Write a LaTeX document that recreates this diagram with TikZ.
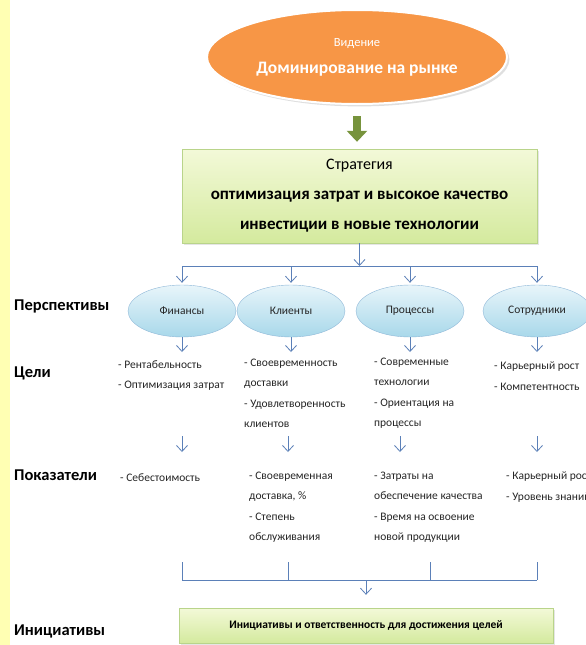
\documentclass[tikz,border=0pt]{standalone}
\usepackage{fontspec}
\setmainfont{Carlito}
\usetikzlibrary{shapes.geometric,arrows.meta,shadows}
\definecolor{visionorange}{HTML}{F79646}
\definecolor{boxtop}{HTML}{F3F9D8}
\definecolor{boxbottom}{HTML}{D4EA9E}
\definecolor{boxborder}{HTML}{B9D48A}
\definecolor{persptop}{HTML}{E8F5FA}
\definecolor{perspbottom}{HTML}{A8D8EA}
\definecolor{perspborder}{HTML}{8FB8D8}
\definecolor{linkblue}{HTML}{5B80B8}
\definecolor{arrowgreen}{HTML}{77933C}
\definecolor{stripyellow}{HTML}{FFFFB3}
\definecolor{textgrey}{HTML}{262626}
\begin{document}
\begin{tikzpicture}[x=1pt,y=-1pt,
    vision/.style={ellipse, draw=white, line width=2pt, fill=visionorange, text=white, minimum width=300pt, minimum height=94pt, align=center, drop shadow={opacity=0.25}},
    greenbox/.style={draw=boxborder, top color=boxtop, bottom color=boxbottom, align=center, text=black, drop shadow={opacity=0.2, shadow xshift=1.5pt, shadow yshift=-1.5pt}},
    persp/.style={ellipse, draw=perspborder, top color=persptop, bottom color=perspbottom, minimum width=108pt, minimum height=52pt, text=textgrey, font=\fontsize{11.5}{13}\selectfont},
    rowlabel/.style={anchor=west, inner sep=0pt, text=black, font=\fontsize{16.5}{18}\selectfont\bfseries},
    item/.style={anchor=north west, align=left, inner sep=0pt, text=textgrey, font=\fontsize{11.5}{20.3}\selectfont},
    link/.style={draw=linkblue, line width=0.8pt},
    downarrow/.style={-{Straight Barb[length=6pt,width=11pt]}},
    bigarrow/.style={draw=arrowgreen, line width=8pt, -{Triangle[length=11pt,width=20pt]}}]
    \useasboundingbox (0,0) rectangle (586,645);
    \clip (0,0) rectangle (586,645);
    \fill[white] (0,0) rectangle (586,645);
    \fill[stripyellow] (0,0) rectangle (10,645);

    \node[vision, font=\fontsize{17.5}{27}\selectfont] (vision) at (357,57) {\fontsize{12.5}{27}\selectfont Видение\\\fontsize{17.5}{27}\selectfont\bfseries Доминирование на рынке};
    \node[greenbox, minimum width=355pt, minimum height=94pt, font=\fontsize{17}{30}\selectfont] (strategy) at (359.5,196) {\fontsize{16}{30}\selectfont Стратегия\\\bfseries оптимизация затрат и высокое качество\\\bfseries инвестиции в новые технологии};
    \draw[bigarrow, shorten <=11pt, shorten >=7pt] (vision.south) -- (vision.south |- strategy.north);

    \node[rowlabel] (lpersp) at (14,306) {Перспективы};
    \node[rowlabel] (lgoals) at (14,373) {Цели};
    \node[rowlabel] (lind) at (14,475) {Показатели};
    \node[rowlabel] (linit) at (14,631) {Инициативы};

    \node[persp] (fin) at (182,311) {Финансы};
    \node[persp] (cli) at (291,311) {Клиенты};
    \node[persp] (proc) at (410,311) {Процессы};
    \node[persp] (staff) at (537,311) {Сотрудники};

    \coordinate (topbar) at (0,266);
    \coordinate (goalrow) at (0,352);
    \coordinate (midbot) at (0,452);
    \coordinate (botbar) at (0,580);
    \draw[link, downarrow] (strategy) -- (strategy |- topbar);
    \draw[link] (fin |- topbar) -- (staff |- topbar);
    \foreach \p in {fin,cli,proc,staff} {
        \draw[link, downarrow, shorten >=2pt] (\p |- topbar) -- (\p.north);
        \draw[link, downarrow] (\p.south) -- (\p |- goalrow);
    }

    \node[item] (g1) at (118,360) {- Рентабельность\\- Оптимизация затрат};
    \node[item] (g2) at (244,359) {- Своевременность\\доставки\\- Удовлетворенность\\клиентов};
    \node[item] (g3) at (374,358) {- Современные\\технологии\\- Ориентация на\\процессы};
    \node[item] (g4) at (494,362) {- Карьерный рост\\- Компетентность};

    \foreach \x [count=\i] in {182,288,400,537} {
        \coordinate (m\i) at (\x,436);
        \draw[link, downarrow] (m\i) -- (m\i |- midbot);
    }

    \node[item] (k1) at (120,473) {- Себестоимость};
    \node[item] (k2) at (249,472) {- Своевременная\\доставка, \%\\- Степень\\обслуживания};
    \node[item] (k3) at (374,472) {- Затраты на\\обеспечение качества\\- Время на освоение\\новой продукции};
    \node[item] (k4) at (506,472) {- Карьерный рост\\- Уровень знаний};

    \node[greenbox, minimum width=374pt, minimum height=35pt, font=\fontsize{11.5}{13}\selectfont\bfseries] (init) at (366,625.5) {Инициативы и ответственность для достижения целей};

    \foreach \x [count=\i] in {182,288,430,537}
        \coordinate (t\i) at (\x,562);
    \draw[link] (t1 |- botbar) -- (t4 |- botbar);
    \foreach \i in {1,...,4}
        \draw[link] (t\i) -- (t\i |- botbar);
    \draw[link, downarrow, shorten >=13pt] (init |- botbar) -- (init.north);
\end{tikzpicture}
\end{document}
